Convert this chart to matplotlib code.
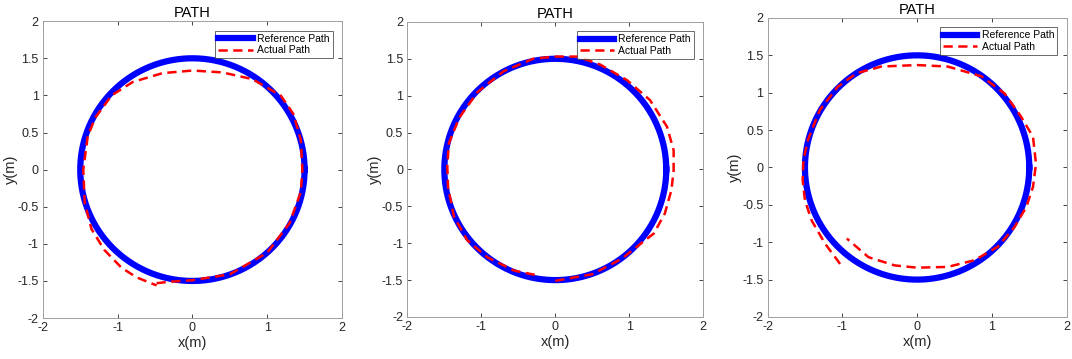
import numpy as np
import matplotlib.pyplot as plt

plt.rcParams['font.family'] = ['Liberation Sans', 'DejaVu Sans']

# reference circle radius
ref_radius = 1.5

# actual paths (x, y in metres)
path1_x = [-0.48, -0.30, 0.00, 0.50, 1.00, 1.30, 1.45, 1.47, 1.45, 1.35, 1.18, 0.80,
           0.40, 0.00, -0.40, -0.80, -1.08, -1.30, -1.40, -1.46, -1.44, -1.35, -1.18,
           -0.95, -0.75, -0.48]
path1_y = [-1.53, -1.51, -1.49, -1.41, -1.12, -0.72, -0.30, 0.00, 0.40, 0.75, 1.00, 1.22,
           1.31, 1.335, 1.30, 1.18, 1.00, 0.70, 0.45, 0.00, -0.45, -0.80, -1.08,
           -1.32, -1.45, -1.56]

path2_x = [0.00, 0.50, 0.90, 1.20, 1.33, 1.48, 1.57, 1.60, 1.60, 1.51, 1.28, 0.97,
           0.61, 0.30, 0.00, -0.30, -0.70, -1.05, -1.30, -1.44, -1.46, -1.45, -1.37,
           -1.19, -0.92, -0.56, -0.27]
path2_y = [-1.51, -1.42, -1.21, -0.97, -0.87, -0.60, -0.28, -0.01, 0.26, 0.58, 0.94, 1.21,
           1.42, 1.53, 1.53, 1.50, 1.33, 1.05, 0.70, 0.35, 0.04, -0.24, -0.64,
           -0.96, -1.19, -1.37, -1.43]

path3_x = [-1.03, -1.23, -1.41, -1.50, -1.53, -1.52, -1.46, -1.30, -1.06, -0.81, -0.48,
           0.00, 0.41, 0.86, 1.17, 1.39, 1.55, 1.59, 1.55, 1.46, 1.30, 1.08, 0.77,
           0.41, 0.00, -0.30, -0.65, -0.94]
path3_y = [-1.29, -1.02, -0.71, -0.44, -0.17, 0.10, 0.37, 0.77, 1.08, 1.26, 1.35,
           1.37, 1.35, 1.22, 0.99, 0.68, 0.41, 0.05, -0.26, -0.53, -0.80, -1.06, -1.24,
           -1.33, -1.34, -1.31, -1.20, -0.95]

paths = [(path1_x, path1_y), (path2_x, path2_y), (path3_x, path3_y)]

# axes rectangles in figure fractions
boxes = [[0.040, 0.114, 0.279, 0.827],
         [0.380, 0.117, 0.276, 0.822],
         [0.716, 0.117, 0.279, 0.833]]

fig = plt.figure(figsize=(10.72, 3.59), dpi=100)
theta = np.linspace(0, 2 * np.pi, 400)

for (px, py), box in zip(paths, boxes):
    ax = fig.add_axes(box)
    ax.plot(ref_radius * np.cos(theta), ref_radius * np.sin(theta),
            color='#0000ff', lw=4.5, label='Reference Path')
    ax.plot(px, py, color='#ff0000', lw=1.8, ls=(0, (3.7, 2.2)), label='Actual Path')
    ax.set_xlim(-2, 2)
    ax.set_ylim(-2, 2)
    ax.set_xticks([-2, -1, 0, 1, 2])
    ax.set_yticks([-2, -1.5, -1, -0.5, 0, 0.5, 1, 1.5, 2])
    ax.set_yticklabels(['-2', '-1.5', '-1', '-0.5', '0', '0.5', '1', '1.5', '2'])
    ax.set_xticklabels(['-2', '-1', '0', '1', '2'])
    ax.tick_params(direction='in', top=True, right=True, length=3,
                   labelsize=9, colors='#262626', width=0.6, pad=3)
    for s in ax.spines.values():
        s.set_color('#a0a0a0')
        s.set_linewidth(0.7)
    ax.set_title('PATH', fontsize=10.5, pad=3)
    ax.set_xlabel('x(m)', fontsize=10.5, color='#262626', labelpad=1)
    ax.set_ylabel('y(m)', fontsize=10.5, color='#262626', labelpad=0)
    leg = ax.legend(loc='upper right', fontsize=7.5, frameon=True, fancybox=False,
                    borderpad=0.3, labelspacing=0.15, handlelength=3.3,
                    handletextpad=0.4, borderaxespad=0.9)
    leg.get_frame().set_edgecolor('#262626')
    leg.get_frame().set_linewidth(0.6)

fig.savefig('out.png', dpi=100)
